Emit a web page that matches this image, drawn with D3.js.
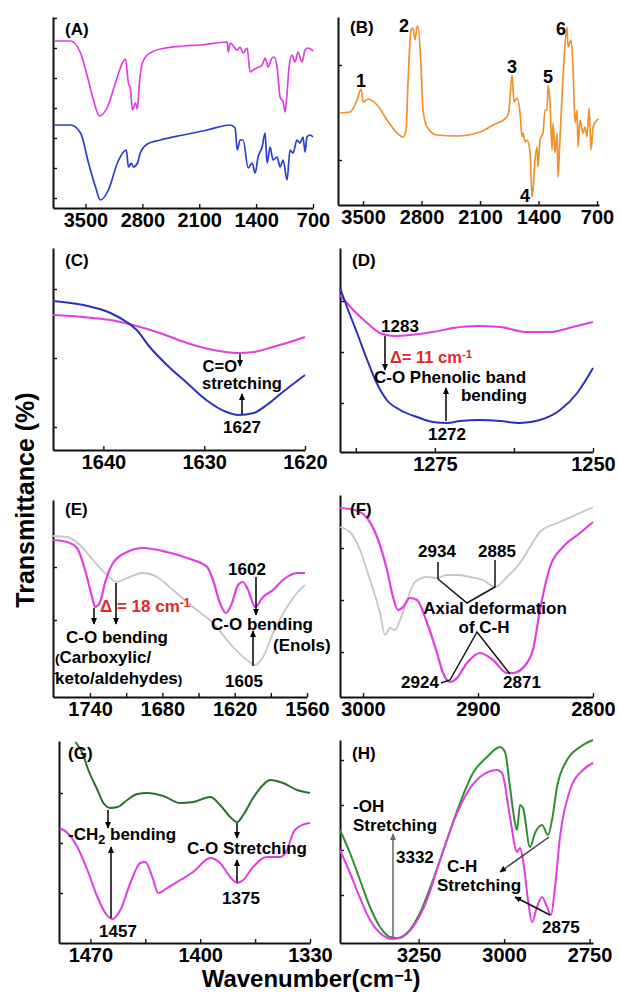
<!DOCTYPE html>
<html><head><meta charset="utf-8">
<script src="https://cdn.jsdelivr.net/npm/d3@7"></script>
<style>
body{margin:0;background:#fff}
svg{display:block}
text{font-family:"Liberation Sans",Arial,sans-serif;font-weight:bold;fill:#000}
</style>
</head><body>
<svg id="c" width="619" height="994"></svg>
<script>
// ---------------- DATA (wavenumber cm-1, transmittance a.u.) ----------------
const A_magenta = [[3881,83.5],[3684,83.5],[3561,77.5],[3475,65.5],[3402,54],[3328,46],[3230,50.5],[3132,62.5],[3046,72.5],[3009,74.5],[2972,62.5],[2947,60],[2923,49],[2886,52.5],[2861,49.5],[2837,62.5],[2800,72.5],[2739,76.5],[2579,79.5],[2297,81],[2088,81.5],[1756,83],[1744,78],[1719,82.5],[1633,79],[1597,80.5],[1560,77.5],[1511,80],[1474,68],[1437,69],[1388,70],[1326,71.5],[1290,75],[1253,70.5],[1204,75],[1179,75.5],[1142,70.5],[1105,55.5],[1068,53],[1044,48],[1019,57.5],[995,70.5],[958,76.5],[921,73],[884,78],[835,73],[798,79],[762,80],[700,78.5]];
const A_blue = [[3881,41.5],[3684,41.5],[3561,37.5],[3463,22.5],[3377,10.5],[3316,4],[3218,9],[3107,22.5],[3033,28],[2997,29],[2972,20.5],[2935,22.5],[2911,20.5],[2861,22.5],[2825,27.5],[2739,32],[2579,34],[2297,36.5],[2002,39],[1719,41.5],[1658,40],[1633,29],[1597,34],[1560,34],[1498,20],[1449,22.5],[1412,17.5],[1376,25.5],[1326,30.5],[1290,37.5],[1265,22.5],[1228,30.5],[1191,24],[1142,25.5],[1105,20.5],[1068,24],[1019,14],[983,29],[946,27.5],[897,34],[860,32.5],[823,35.5],[798,28],[774,35.5],[737,36.5],[700,35.5]];
const B_orange = [[3775,46],[3656,46.5],[3572,52.5],[3524,58],[3500,51.5],[3440,53],[3332,50],[3213,42.5],[3093,36],[3021,34],[2985,37.5],[2962,61],[2926,87.5],[2902,88.5],[2878,82.5],[2854,89],[2842,89.5],[2806,69],[2782,47.5],[2734,39],[2615,35],[2375,34.5],[2100,36.5],[1944,40],[1777,44],[1753,47.5],[1717,65],[1693,51.5],[1657,53.5],[1621,46],[1597,34],[1585,36],[1561,31.5],[1537,32.5],[1501,26],[1478,4],[1466,7.5],[1442,22.5],[1418,29],[1406,19],[1382,32.5],[1346,36],[1322,47.5],[1298,47.5],[1286,60],[1262,51],[1238,27.5],[1226,41],[1202,26],[1178,36],[1166,14],[1155,22.5],[1119,54],[1095,72.5],[1059,89],[1047,79],[1011,82.5],[987,69],[963,41],[939,47.5],[927,29],[903,42.5],[867,36],[843,39],[819,34],[795,48.5],[771,27.5],[747,39],[699,42.5],[680,43]];
const B_peakLabels = [["1",3524,58],["2",2890,89],["3",1717,65],["4",1478,4],["5",1286,60],["6",1059,89]];
const C_blue = [[1645,74.5],[1642,72.5],[1639.3,68.5],[1637.7,64],[1636.7,60],[1635.4,51.5],[1633.7,42.5],[1631.7,33.5],[1629.8,25],[1627.8,19],[1626.6,17.5],[1625.1,18.5],[1623.8,22.5],[1622.2,29],[1620,37.5]];
const C_magenta = [[1645,67.5],[1642,66.5],[1639.3,65],[1637.1,62.5],[1634.4,58.5],[1631.7,53.5],[1629.1,50],[1626.7,48.5],[1625.1,49],[1623.2,51.5],[1621.5,54],[1620,56.5]];
const D_blue = [[1290,82],[1288.9,72.5],[1287.3,59.5],[1285.7,46],[1284.2,34.5],[1282.6,26],[1280.5,21],[1277.8,17.5],[1275.3,15],[1273.1,14.5],[1271,15.5],[1267.9,16],[1264.7,15.5],[1261.5,14.5],[1258.4,16],[1255.2,21],[1252.5,29.5],[1250,42]];
const D_magenta = [[1290,78.5],[1287.9,71],[1285.7,64.5],[1283.7,59.5],[1281.6,58],[1278.9,58.5],[1275.3,60],[1272.1,62],[1268.3,63],[1264.7,62.5],[1260.4,60],[1256.8,60],[1253.2,62.5],[1250,65]];
const E_magenta = [[1770.7,78.5],[1759.1,77.5],[1750.8,74.5],[1744.1,63.5],[1738.3,50],[1735.9,45],[1731.7,47.5],[1727.6,57],[1720.9,67],[1709.3,72.5],[1696,74.5],[1676.1,72.5],[1659.5,69.5],[1642.9,65],[1638,58.5],[1632.2,47],[1627.2,42],[1622.2,47],[1617.2,56],[1613.1,57.5],[1608.9,53.5],[1603.1,45],[1596.5,50],[1588.2,53.5],[1580,58.5],[1568.3,62],[1561.7,62]];
const E_gray = [[1770.7,80.5],[1759.1,80],[1748.3,76],[1737.5,68.5],[1725.9,61],[1717.6,57.5],[1709.3,59.5],[1696,62],[1684.4,60],[1671.2,53.5],[1654.6,45],[1638,37],[1621.4,25],[1609.8,18.5],[1603.1,16],[1596.5,20],[1588.2,32],[1576.6,45],[1568.3,52],[1561.7,56]];
const F_magenta = [[3020,94.5],[3007,93.5],[2996.5,89.5],[2987.8,80],[2979.1,63.5],[2973.9,50],[2969.6,43.5],[2965.2,45],[2959.1,49.5],[2953,48.5],[2944.3,37],[2935.6,22],[2930.4,12],[2924.3,7.5],[2918.3,9.5],[2909.6,17],[2898.3,22],[2887,18.5],[2874.8,12],[2869.6,12],[2857.4,17],[2852.2,23.5],[2846.1,43.5],[2837.4,65],[2826.1,75],[2811.3,82],[2800,87.5]];
const F_gray = [[3020,85],[3011.3,82.5],[3002.6,73.5],[2993.9,58.5],[2985.2,42],[2980.9,31],[2976.5,34.5],[2972.2,33.5],[2967.8,38.5],[2961.7,48.5],[2954.8,57.5],[2944.3,60],[2935.6,59.5],[2927,61],[2918.3,61],[2907,60],[2895.6,58.5],[2885.2,55],[2874.8,60],[2863.5,67],[2854.8,75],[2846.1,82.5],[2828.7,87.5],[2811.3,92],[2800,95]];
const G_green = [[1479.5,100.5],[1475.1,95],[1471.3,86.5],[1465.5,76.5],[1461.7,70],[1457.3,67.5],[1452.8,68],[1446.5,71.5],[1440.1,74.5],[1433.7,75],[1423.5,73.5],[1412.7,70],[1404.5,70.5],[1393.6,73],[1387.3,69],[1380.9,63],[1376.4,60.5],[1372.6,64],[1366.3,72.5],[1359.9,79],[1355.5,81.5],[1347.2,80],[1338.3,76.5],[1330,75]];
const G_magenta = [[1489.5,57.5],[1484.6,55],[1478.3,48],[1471.9,36.5],[1465.5,23],[1460.5,15],[1456,12],[1450.9,16.5],[1444.5,30],[1438.2,40],[1435,40.5],[1430.5,33],[1426.7,25],[1421,27.5],[1412.7,31.5],[1404.5,35.5],[1393.6,42.5],[1387.3,40],[1380.9,33],[1376.4,30],[1372.6,31.5],[1366.3,38],[1357.4,43],[1349.1,43],[1344.6,46.5],[1340.8,55],[1336.4,58.5],[1330,60]];
const H_green = [[3480,56.5],[3450.8,45],[3421.5,31.5],[3392.3,18],[3363,8],[3333.8,3],[3313.3,2.5],[3284,5],[3246,15],[3208,31.5],[3167,51.5],[3129,70],[3091,85],[3050,93],[3012,98],[2997.4,95.5],[2982.8,78],[2968.1,60],[2962.3,56.5],[2953.5,69],[2944.7,67.5],[2924.3,48],[2909.6,55],[2889.1,59],[2871.6,54],[2859.9,61.5],[2845.3,78],[2816,91.5],[2778,98],[2740,101.5]];
const H_magenta = [[3480,46.5],[3450.8,35],[3421.5,22.5],[3392.3,11.5],[3363,5],[3327.9,2],[3304.5,2.5],[3266.5,8],[3225.5,21.5],[3187.5,41.5],[3149.5,60],[3108.5,75],[3070.5,83],[3020.8,86.5],[3006.2,85],[2982.8,63],[2962.3,45.5],[2953.5,47.5],[2944.7,41.5],[2930.1,21.5],[2918.4,10.5],[2903.8,18],[2889.1,23],[2874.5,18],[2862.8,14],[2851.1,28],[2836.5,53],[2807.3,76.5],[2769.3,86.5],[2740,90]];

const tickA = [3500,2800,2100,1400,700];
const tickC = [1640,1630,1620];
const tickD = [1287.5,1275,1262.5,1250], tickD_lab = [1275,1250];
const tickE = [1740,1710,1680,1650,1620,1590,1560], tickE_lab = [1740,1680,1620,1560];
const tickF = [3000,2900,2800];
const tickG = [1470,1435,1400,1365,1330], tickG_lab = [1470,1400,1330];
const tickH = [3250,3000,2750];

// ---------------- DRAWING ----------------
const MAG = "#e13ee1", BLUE = "#2b3ed2", BLUE2 = "#2c30bf", ORANGE = "#f0922b", GRAY = "#c6c6c6", GREEN1 = "#2c6f2c", GREEN2 = "#2f8f2f", RED = "#e0282a";
const svg = d3.select("#c");
const defs = svg.append("defs");
function mk(id, col){
  defs.append("marker").attr("id", id).attr("viewBox","0 0 10 10").attr("refX",9).attr("refY",5)
    .attr("markerWidth",4.5).attr("markerHeight",4.5).attr("orient","auto")
    .append("path").attr("d","M0,0.5L10,5L0,9.5Z").attr("fill", col);
}
mk("ah","#000"); mk("ahg","#666");

function panel(cfg){
  const x = d3.scaleLinear().domain(cfg.xd).range(cfg.xr);
  const y = d3.scaleLinear().domain(cfg.yd).range(cfg.yr);
  const g = svg.append("g");
  const lab = cfg.xl || cfg.xt;
  const xa = d3.axisBottom(x).tickValues(cfg.xt).tickSizeInner(-4).tickSizeOuter(0).tickPadding(5)
     .tickFormat(d => lab.includes(d) ? d : "");
  const gx = g.append("g").attr("transform",`translate(0,${cfg.yr[0]})`).call(xa);
  gx.selectAll("text").attr("font-size",20).attr("font-family",null).style("font-family",'"Liberation Sans",Arial,sans-serif').style("font-weight","bold");
  const ya = d3.axisLeft(y).tickValues(cfg.yt).tickSizeInner(-4).tickSizeOuter(0).tickFormat("");
  const gy = g.append("g").attr("transform",`translate(${cfg.xr[0]},0)`).call(ya);
  [gx, gy].forEach(a => { a.select(".domain").attr("stroke","#111").attr("stroke-width",2);
                          a.selectAll(".tick line").attr("stroke","#111").attr("stroke-width",1.4); });
  const line = d3.line().x(d => x(d[0])).y(d => y(d[1])).curve(cfg.curve || d3.curveMonotoneX);
  cfg.series.forEach(s => {
    g.append("path").datum(s.data).attr("d", line).attr("fill","none")
     .attr("stroke", s.color).attr("stroke-width", s.w || 2).attr("stroke-linejoin","round");
  });
  g.append("text").attr("x", cfg.lx).attr("y", cfg.ly).attr("font-size",17).text(cfg.label);
  return {g, x, y};
}

function T(g, x, y, parts, opt={}){
  const t = g.append("text").attr("x", x).attr("y", y).attr("font-size", opt.size || 17)
    .attr("text-anchor", opt.anchor || "start");
  if (opt.fill) t.style("fill", opt.fill);
  if (typeof parts === "string") parts = [[parts]];
  parts.forEach(p => {
    const s = t.append("tspan").text(p[0]);
    if (p[1] === "sub") s.attr("font-size", (opt.size||17)*0.75).attr("baseline-shift","-30%");
    if (p[1] === "sup") s.attr("font-size", (opt.size||17)*0.7).attr("baseline-shift","45%");
    if (p[1] === "small") s.attr("font-size", (opt.size||17)*0.8);
  });
  return t;
}
function arrow(g, x1, y1, x2, y2, col="#000", id="ah"){
  g.append("line").attr("x1",x1).attr("y1",y1).attr("x2",x2).attr("y2",y2)
   .attr("stroke",col).attr("stroke-width",1.5).attr("marker-end",`url(#${id})`);
}
function poly(g, pts, col="#111"){
  g.append("path").attr("d", d3.line()(pts)).attr("fill","none").attr("stroke",col).attr("stroke-width",1.5);
}

// Panel A
const pA = panel({xd:[3900,700], xr:[53,313], yd:[0,95.5], yr:[208,17], xt:tickA, yt:[5,20,35,50,65,80,95],
  label:"(A)", lx:65, ly:35,
  series:[{data:A_magenta,color:MAG,w:1.7},{data:A_blue,color:BLUE,w:1.7}]});
// Panel B
const pB = panel({xd:[3800,676], xr:[338,599], yd:[0,94], yr:[205,17], xt:tickA, yt:[22.5,70],
  label:"(B)", lx:350, ly:33,
  series:[{data:B_orange,color:ORANGE,w:1.7}]});
const bOff = {"1":[0,-2],"2":[-10,5],"3":[0,-2],"4":[-7,5],"5":[0,-2],"6":[-6,8]};
B_peakLabels.forEach(([n,w,t]) => {
  T(pB.g, pB.x(w)+bOff[n][0], pB.y(t)+bOff[n][1], n, {anchor:"middle", size:18});
});
// Panel C
const pC = panel({xd:[1645,1620], xr:[53,305], yd:[0,101], yr:[450,248], xt:tickC, yt:[11.5,46,80.5],
  label:"(C)", lx:65, ly:266,
  series:[{data:C_magenta,color:MAG},{data:C_blue,color:BLUE2}]});
arrow(pC.g, 240, 354, 240, 366);
T(pC.g, 237, 372, "C=O", {anchor:"end", size:16.5});
T(pC.g, 242, 389, "stretching", {anchor:"middle", size:16.5});
arrow(pC.g, 242, 414, 242, 394);
T(pC.g, 242, 433, "1627", {anchor:"middle"});
// Panel D
const pD = panel({xd:[1290,1250], xr:[340,593], yd:[0,102], yr:[452,248], xt:tickD, xl:tickD_lab, yt:[24.5,50,75.5],
  label:"(D)", lx:352, ly:266,
  series:[{data:D_magenta,color:MAG},{data:D_blue,color:BLUE2}]});
T(pD.g, 400, 332, "1283", {anchor:"middle"});
arrow(pD.g, 385, 336, 385, 370);
T(pD.g, 390, 363, [["Δ= 11 cm"],["-1","sup"]], {fill:RED, size:16.5});
T(pD.g, 450, 383, "C-O Phenolic band", {anchor:"middle"});
T(pD.g, 527, 401, "bending", {anchor:"end"});
arrow(pD.g, 446, 421, 446, 388);
T(pD.g, 447, 440, "1272", {anchor:"middle"});
// Panel E
const pE = panel({xd:[1770.7,1560], xr:[53,307], yd:[0,98.5], yr:[697,500], xt:tickE, xl:tickE_lab, yt:[12,38.5,65],
  label:"(E)", lx:65, ly:515,
  series:[{data:E_gray,color:GRAY,w:1.8},{data:E_magenta,color:MAG,w:2.2}]});
arrow(pE.g, 94, 608, 94, 624);
arrow(pE.g, 116, 583, 116, 624);
T(pE.g, 100, 612, [["Δ"],[" = 18 cm"],["-1","sup"]], {fill:RED});
T(pE.g, 117, 643, "C-O bending", {anchor:"middle"});
T(pE.g, 55, 663, [["(","small"],["Carboxylic/"]]);
T(pE.g, 55, 684, [["keto/aldehydes"],[")","small"]]);
T(pE.g, 247, 575, "1602", {anchor:"middle"});
arrow(pE.g, 256, 577, 256, 615);
arrow(pE.g, 253, 666, 253, 631);
T(pE.g, 262, 630, "C-O bending", {anchor:"middle"});
T(pE.g, 273, 651, "(Enols)");
T(pE.g, 244, 687, "1605", {anchor:"middle"});
// Panel F
const pF = panel({xd:[3020,2800], xr:[340,593], yd:[0,101], yr:[697,495], xt:tickF, yt:[22.5,48.5,74.5],
  label:"(F)", lx:350, ly:515,
  series:[{data:F_gray,color:GRAY,w:1.8},{data:F_magenta,color:MAG,w:2.2}]});
T(pF.g, 437, 557, "2934", {anchor:"middle"});
T(pF.g, 497, 557, "2885", {anchor:"middle"});
poly(pF.g, [[438,562],[438,579],[467,603],[495,587],[495,560]]);
T(pF.g, 495, 614, "Axial deformation", {anchor:"middle"});
T(pF.g, 484, 633, "of C-H", {anchor:"middle"});
poly(pF.g, [[441,683],[450,680],[477,632],[510,674]]);
T(pF.g, 420, 688, "2924", {anchor:"middle"});
T(pF.g, 522, 688, "2871", {anchor:"middle"});
// Panel G
const pG = panel({xd:[1490,1330], xr:[59,310], yd:[0,101], yr:[943,741], xt:tickG, xl:tickG_lab, yt:[25,50,75],
  label:"(G)", lx:68, ly:759,
  series:[{data:G_green,color:GREEN1},{data:G_magenta,color:MAG}]});
arrow(pG.g, 108, 810, 108, 828);
T(pG.g, 68, 840, [["-CH"],["2","sub"],[" bending"]]);
arrow(pG.g, 111, 918, 111, 847);
T(pG.g, 118, 937, "1457", {anchor:"middle"});
arrow(pG.g, 237, 823, 237, 838);
T(pG.g, 247, 854, "C-O Stretching", {anchor:"middle"});
arrow(pG.g, 237, 882, 237, 860);
T(pG.g, 241, 904, "1375", {anchor:"middle"});
// Panel H
const pH = panel({xd:[3480,2740], xr:[340,593], yd:[0,101.5], yr:[943,740], xt:tickH, yt:[24,46.5,69,91.5],
  label:"(H)", lx:352, ly:759,
  series:[{data:H_green,color:GREEN2},{data:H_magenta,color:MAG}]});
T(pH.g, 353, 812, "-OH");
T(pH.g, 353, 831, "Stretching");
arrow(pH.g, 393, 938, 393, 834, "#666", "ahg");
T(pH.g, 396, 863, "3332");
T(pH.g, 447, 872, "C-H");
T(pH.g, 437, 891, "Stretching");
arrow(pH.g, 549, 837, 500, 872, "#444");
arrow(pH.g, 550, 915, 515, 897, "#111");
T(pH.g, 542, 933, "2875");

// Global axis titles
svg.append("text").attr("transform","translate(34,500) rotate(-90)").attr("text-anchor","middle")
   .attr("font-size",25).text("Transmittance (%)");
const xt = svg.append("text").attr("x",311).attr("y",987).attr("text-anchor","middle").attr("font-size",24);
xt.append("tspan").text("Wavenumber(cm");
xt.append("tspan").text("−1").attr("font-size",16).attr("baseline-shift","40%");
xt.append("tspan").text(")");
</script>
</body></html>
